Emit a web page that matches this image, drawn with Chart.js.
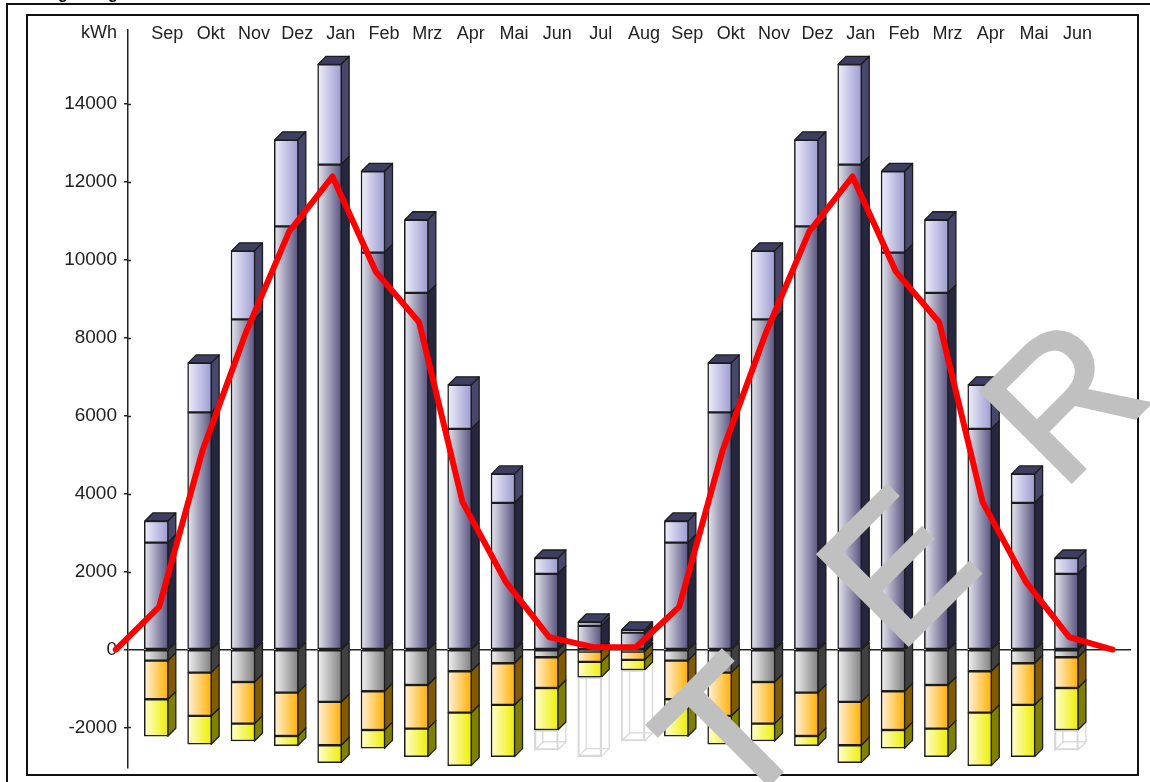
<!DOCTYPE html>
<html lang="de">
<head>
<meta charset="utf-8">
<title>Energiebilanz</title>
<style>
  html, body { margin: 0; padding: 0; background: #fff; overflow: hidden; }
  canvas { display: block; }
</style>
</head>
<body>
<canvas id="kwhChart" width="1150" height="782"></canvas>
<script src="https://cdn.jsdelivr.net/npm/chart.js@4"></script>
<script>
// Monate, zwei Heizperioden nebeneinander
const categories = ["Sep", "Okt", "Nov", "Dez", "Jan", "Feb", "Mrz", "Apr", "Mai", "Jun", "Jul", "Aug",
                    "Sep", "Okt", "Nov", "Dez", "Jan", "Feb", "Mrz", "Apr", "Mai", "Jun"];
const yTicks = [-2000, 0, 2000, 4000, 6000, 8000, 10000, 12000, 14000];

// Stapelanteile in kWh
const baseLoad = [2745, 6087, 8474, 10860, 12447, 10188, 9154, 5663, 3763, 1940, 606, 434,
                  2745, 6087, 8474, 10860, 12447, 10188, 9154, 5663, 3763, 1940];
const peakLoad = [555, 1270, 1758, 2222, 2573, 2085, 1876, 1130, 745, 410, 102, 69,
                  555, 1270, 1758, 2222, 2573, 2085, 1876, 1130, 745, 410];
const grayPart = [-285, -593, -832, -1106, -1345, -1070, -909, -557, -352, -198, -54, -54,
                  -285, -593, -832, -1106, -1345, -1070, -909, -557, -352, -198];
const orangePart = [-991, -1111, -1070, -1112, -1112, -994, -1121, -1063, -1070, -788, -264, -213,
                    -991, -1111, -1070, -1112, -1112, -994, -1121, -1063, -1070, -788];
const yellowPart = [-950, -727, -444, -248, -446, -469, -719, -1360, -1327, -1078, -393, -257,
                    -950, -727, -444, -248, -446, -469, -719, -1360, -1327, -1078];
const openPart = [null, null, null, null, null, null, null, null, null, -513, -2038, -1822,
                  null, null, null, null, null, null, null, null, null, -513];

// rote Linie, beginnt einen Monat vor und endet einen Monat nach den Balken
const lineValues = [0, 1094, 5100, 8127, 10727, 12140, 9700, 8400, 3790, 1735, 320, 67, 60,
                    1094, 5100, 8127, 10727, 12140, 9700, 8400, 3790, 1735, 320, 0];

const BAR_W = 24;
const DEPTH = 8;
const EDGE = "#1c1c1c";
const FONT = { family: "'Liberation Sans', Arial, sans-serif", size: 18 };

function faceFill(from, to) {
    return function (ctx) {
        const xScale = ctx.chart.scales.x;
        if (ctx.dataIndex === undefined || !xScale) return to;
        const mid = xScale.getPixelForValue(ctx.dataIndex);
        if (!isFinite(mid)) return to;
        const g = ctx.chart.ctx.createLinearGradient(mid - BAR_W / 2, 0, mid + BAR_W / 2, 0);
        g.addColorStop(0, from);
        g.addColorStop(1, to);
        return g;
    };
}

function barSet(values, from, to, sideColor, extra) {
    return Object.assign({
        type: "bar",
        stack: "kwh",
        data: values.map((v, i) => ({ x: i, y: v })),
        backgroundColor: faceFill(from, to),
        borderColor: EDGE,
        borderWidth: 1.5,
        borderSkipped: false,
        barThickness: BAR_W,
        sideColor: sideColor,
        clip: false
    }, extra);
}

function drawPoly(c, pts, fill, stroke) {
    c.beginPath();
    pts.forEach((p, i) => (i ? c.lineTo(p[0], p[1]) : c.moveTo(p[0], p[1])));
    c.closePath();
    if (fill) { c.fillStyle = fill; c.fill(); }
    c.strokeStyle = stroke;
    c.stroke();
}

// Seiten- und Deckflaechen der Balken aus den Bar-Elementen ableiten
const blockSides = {
    id: "blockSides",
    beforeDatasetsDraw(chart) {
        const c = chart.ctx;
        c.save();
        c.lineWidth = 1.3;
        c.lineJoin = "round";
        for (let d = chart.data.datasets.length - 1; d >= 0; d--) {
            const ds = chart.data.datasets[d];
            if (!ds.sideColor && !ds.wire) continue;
            chart.getDatasetMeta(d).data.forEach((el) => {
                if (el.skip) return;
                const top = Math.min(el.y, el.base);
                const bottom = Math.max(el.y, el.base);
                const left = el.x - BAR_W / 2 + 0.5;
                const right = el.x + BAR_W / 2 - 0.5;
                if (ds.wire) {
                    drawPoly(c, [[left + DEPTH, top - DEPTH], [right + DEPTH, top - DEPTH],
                                 [right + DEPTH, bottom - DEPTH], [left + DEPTH, bottom - DEPTH]], null, ds.wire);
                    drawPoly(c, [[left, bottom], [left + DEPTH, bottom - DEPTH]], null, ds.wire);
                    drawPoly(c, [[right, bottom], [right + DEPTH, bottom - DEPTH]], null, ds.wire);
                    return;
                }
                drawPoly(c, [[right, top], [right + DEPTH, top - DEPTH],
                             [right + DEPTH, bottom - DEPTH], [right, bottom]], ds.sideColor, EDGE);
                if (ds.capColor) {
                    drawPoly(c, [[left, top], [left + DEPTH, top - DEPTH],
                                 [right + DEPTH, top - DEPTH], [right, top]], ds.capColor, EDGE);
                }
            });
        }
        c.restore();
    },
    afterDraw(chart) {
        const c = chart.ctx;
        const y = chart.scales.y;
        c.save();

        // Achsenstriche ragen etwas nach rechts ueber die Achse
        c.strokeStyle = "#222";
        c.lineWidth = 1.5;
        yTicks.forEach((v) => {
            if (v === 0) return;
            const py = Math.round(y.getPixelForValue(v)) + 0.5;
            c.beginPath();
            c.moveTo(y.right, py);
            c.lineTo(y.right + 3, py);
            c.stroke();
        });

        c.fillStyle = "#222";
        c.font = "18px 'Liberation Sans', Arial, sans-serif";
        c.textAlign = "right";
        c.textBaseline = "middle";
        c.fillText("kWh", 117, 33);

        // Rahmen
        c.strokeStyle = "#111";
        c.lineWidth = 2;
        c.strokeRect(27, 15, 1111, 760);
        c.beginPath();
        c.moveTo(7, 782);
        c.lineTo(7, 4);
        c.lineTo(1150, 4);
        c.stroke();

        // abgeschnittene Kopfzeile
        c.fillStyle = "#000";
        c.font = "bold 16px 'Liberation Sans', Arial, sans-serif";
        c.textAlign = "center";
        c.textBaseline = "alphabetic";
        c.fillText("g", 63, -1);
        c.fillText("g", 113, -1);

        // Wasserzeichen, Kontur macht die Striche kraeftiger
        c.fillStyle = "#c0c0c0";
        c.strokeStyle = "#c0c0c0";
        c.lineWidth = 4;
        c.lineJoin = "miter";
        c.font = "185px 'Liberation Sans', Arial, sans-serif";
        c.textAlign = "left";
        ["T", "E", "R"].forEach((letter, i) => {
            c.save();
            c.translate(735 + i * 163, 818 - i * 163);
            c.rotate(-Math.PI / 4);
            c.fillText(letter, 0, 0);
            c.strokeText(letter, 0, 0);
            c.restore();
        });
        c.restore();
    }
};

const chart = new Chart(document.getElementById("kwhChart").getContext("2d"), {
    type: "bar",
    plugins: [blockSides],
    data: {
        datasets: [
            {
                type: "line",
                stack: "linie",
                order: -1,
                data: lineValues.map((v, i) => ({ x: i - 1 + 0.065, y: v })),
                borderColor: "#ff0000",
                borderWidth: 6,
                borderJoinStyle: "round",
                borderCapStyle: "round",
                pointRadius: 0,
                tension: 0,
                clip: false
            },
            barSet(baseLoad, "#e6e6ee", "#575280", "#26263f"),
            barSet(peakLoad, "#eeeefa", "#9c9cd2", "#47476b", { capColor: "#3e3e62" }),
            barSet(grayPart, "#f2f2f2", "#808080", "#404040"),
            barSet(orangePart, "#fff2dc", "#ffb000", "#825a00"),
            barSet(yellowPart, "#ffffd2", "#eeee00", "#7f7f00"),
            {
                type: "bar",
                stack: "kwh",
                data: openPart.map((v, i) => ({ x: i, y: v })),
                backgroundColor: "rgba(0,0,0,0)",
                borderColor: "#d8d8d8",
                borderWidth: 1.5,
                borderSkipped: false,
                barThickness: BAR_W,
                wire: "#d8d8d8",
                clip: false
            }
        ]
    },
    options: {
        responsive: false,
        animation: false,
        layout: { padding: { left: 0, top: 0, right: 19, bottom: 14 } },
        plugins: { legend: { display: false }, tooltip: { enabled: false } },
        scales: {
            x: {
                type: "linear",
                position: "top",
                min: -0.653,
                max: 22.49,
                offset: false,
                afterBuildTicks(scale) {
                    scale.ticks = categories.map((_, i) => ({ value: i }));
                },
                afterFit(scale) { scale.height = 30; },
                ticks: {
                    callback: (value) => categories[value],
                    font: FONT,
                    color: "#222",
                    autoSkip: false,
                    maxRotation: 0,
                    labelOffset: 11,
                    mirror: true,
                    padding: -7
                },
                grid: { display: false, drawTicks: false },
                border: { display: false }
            },
            y: {
                stacked: true,
                min: -3040,
                max: 15900,
                afterBuildTicks(scale) {
                    scale.ticks = yTicks.map((v) => ({ value: v }));
                },
                afterFit(scale) {
                    scale.width = 128;
                    scale.paddingTop = 0;
                    scale.paddingBottom = 0;
                },
                ticks: {
                    font: { family: FONT.family, size: 19 },
                    color: "#222",
                    padding: 7,
                    callback: (value) => String(value)
                },
                grid: {
                    color: (ctx) => (ctx.tick && ctx.tick.value === 0 ? "#222" : "rgba(0,0,0,0)"),
                    tickColor: "#222",
                    tickLength: 4,
                    lineWidth: 1.5
                },
                border: { color: "#222", width: 1.5 }
            }
        }
    }
});
</script>
</body>
</html>
